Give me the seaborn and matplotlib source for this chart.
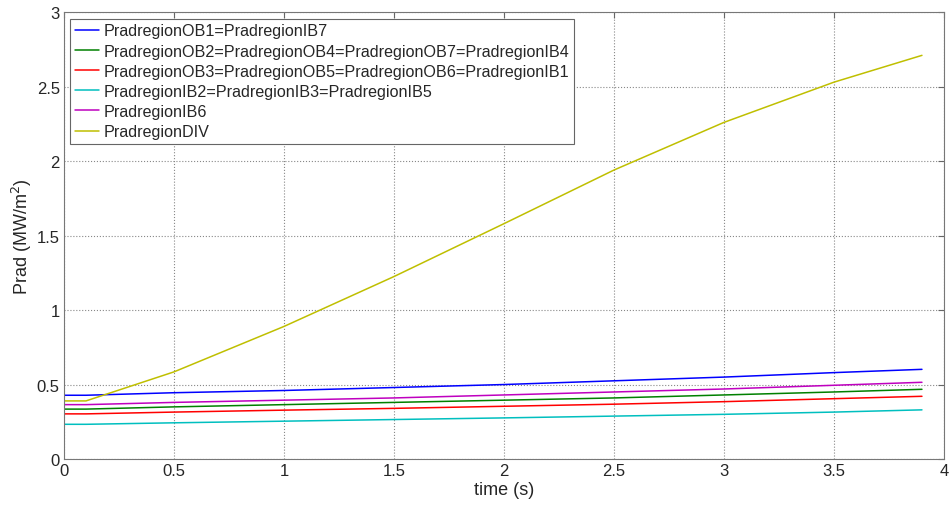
import matplotlib
matplotlib.use("Agg")
import matplotlib.pyplot as plt
import pandas as pd
import seaborn as sns

# time axis (s)
time = [0, 0.1, 0.5, 1, 1.5, 2, 2.5, 3, 3.5, 3.9]

# Prad per region (MW/m^2)
ob1 = [0.428, 0.428, 0.445, 0.46, 0.48, 0.50, 0.525, 0.55, 0.58, 0.602]
ob2 = [0.335, 0.335, 0.35, 0.365, 0.38, 0.395, 0.41, 0.43, 0.45, 0.468]
ob3 = [0.303, 0.303, 0.315, 0.328, 0.34, 0.354, 0.368, 0.385, 0.405, 0.421]
ib2 = [0.233, 0.233, 0.243, 0.254, 0.265, 0.276, 0.288, 0.30, 0.315, 0.33]
ib6 = [0.365, 0.365, 0.38, 0.395, 0.41, 0.43, 0.45, 0.47, 0.495, 0.515]
div = [0.39, 0.39, 0.585, 0.89, 1.225, 1.58, 1.94, 2.26, 2.53, 2.71]

labels = [
    "PradregionOB1=PradregionIB7",
    "PradregionOB2=PradregionOB4=PradregionOB7=PradregionIB4",
    "PradregionOB3=PradregionOB5=PradregionOB6=PradregionIB1",
    "PradregionIB2=PradregionIB3=PradregionIB5",
    "PradregionIB6",
    "PradregionDIV",
]
colors = ["#0000ff", "#008000", "#ff0000", "#00bfbf", "#bf00bf", "#bfbf00"]

frames = []
for lab, vals in zip(labels, [ob1, ob2, ob3, ib2, ib6, div]):
    frames.append(pd.DataFrame({"time": time, "Prad": vals, "region": lab}))
df = pd.concat(frames, ignore_index=True)

sns.set_style("white")
plt.rcParams["font.family"] = ["Liberation Sans", "DejaVu Sans"]

fig = plt.figure(figsize=(9.51, 5.06), dpi=100)
ax = fig.add_axes([0.0673, 0.0909, 0.9253, 0.8831])

sns.lineplot(data=df, x="time", y="Prad", hue="region", hue_order=labels,
             palette=colors, linewidth=1.1, ax=ax)

ax.set_xlim(0, 4)
ax.set_ylim(0, 3)
ax.set_xticks([0, 0.5, 1, 1.5, 2, 2.5, 3, 3.5, 4])
ax.set_xticklabels(["0", "0.5", "1", "1.5", "2", "2.5", "3", "3.5", "4"], fontsize=12)
ax.set_yticks([0, 0.5, 1, 1.5, 2, 2.5, 3])
ax.set_yticklabels(["0", "0.5", "1", "1.5", "2", "2.5", "3"], fontsize=12)
ax.set_xlabel("time (s)", fontsize=13, labelpad=2)
ax.set_ylabel("Prad (MW/m$^2$)", fontsize=13, labelpad=2)

ax.grid(True, linestyle=":", color="#888888", linewidth=0.8)
ax.tick_params(direction="in", top=True, right=True, length=4, color="#666666", pad=3)
for s in ax.spines.values():
    s.set_color("#777777")
    s.set_linewidth(0.8)

leg = ax.legend(loc="upper left", fontsize=11.6, fancybox=False, frameon=True,
                handlelength=1.5, handletextpad=0.25, borderaxespad=0.4,
                labelspacing=0.32, borderpad=0.3)
leg.get_frame().set_edgecolor("#666666")
leg.get_frame().set_linewidth(0.8)
leg.get_frame().set_alpha(1)

fig.savefig("out.png", dpi=100)
